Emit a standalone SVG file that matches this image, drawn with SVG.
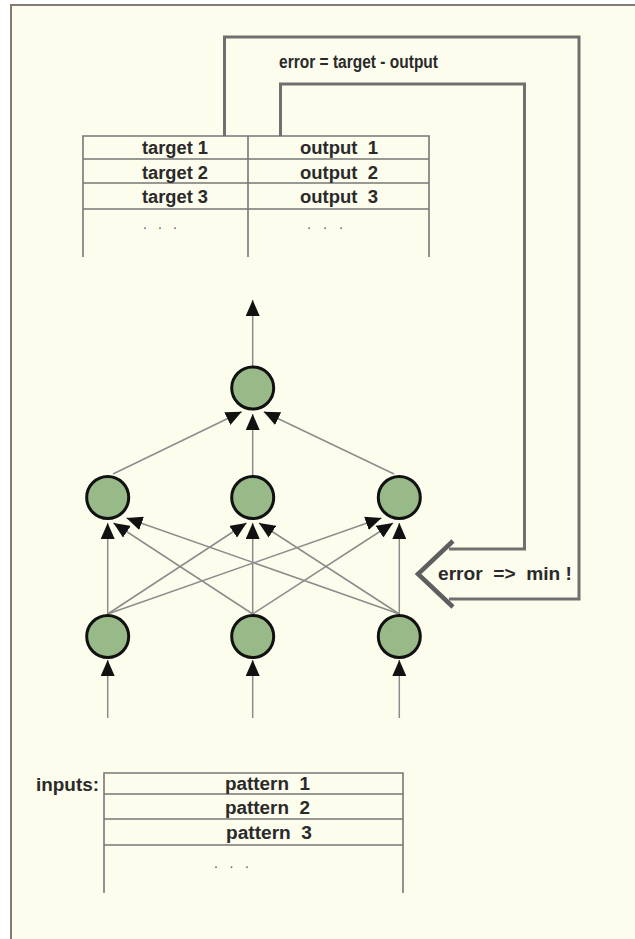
<svg xmlns="http://www.w3.org/2000/svg" width="635" height="939" viewBox="0 0 635 939">
<defs>
<style>
.t{font-family:"Liberation Sans",Arial,sans-serif;font-weight:bold;font-size:18px;fill:#2a2a2a}
.d{font-family:"Liberation Sans",Arial,sans-serif;font-size:14px;fill:#555}
.tbl{stroke:#777;stroke-width:1.6;fill:none}
.fb{stroke:#707070;stroke-width:3;fill:none}
.cn{stroke:#8c8c8c;stroke-width:1.5;fill:none;marker-end:url(#ah)}
.nd{fill:#98ba88;stroke:#111;stroke-width:3}
</style>
<marker id="ah" markerUnits="userSpaceOnUse" markerWidth="16" markerHeight="14" refX="16" refY="7" orient="auto">
<path d="M0,0 L16,7 L0,14 z" fill="#111"/>
</marker>
</defs>
<rect x="0" y="0" width="635" height="939" fill="#ffffff"/>
<rect x="11" y="5" width="624" height="934" fill="#fdfdee"/>
<path d="M11,939 V5 H635" stroke="#857a7b" stroke-width="2" fill="none"/>

<g id="target-output-table">
<path class="tbl" d="M83,257 V136 H429 V257 M248,136 V257 M83,159 H429 M83,183 H429 M83,209 H429"/>
<text class="t" x="142" y="154" textLength="66" lengthAdjust="spacingAndGlyphs">target 1</text>
<text class="t" x="142" y="179" textLength="66" lengthAdjust="spacingAndGlyphs">target 2</text>
<text class="t" x="142" y="203" textLength="66" lengthAdjust="spacingAndGlyphs">target 3</text>
<text class="t" x="300" y="154" textLength="78" lengthAdjust="spacingAndGlyphs" xml:space="preserve">output  1</text>
<text class="t" x="300" y="179" textLength="78" lengthAdjust="spacingAndGlyphs" xml:space="preserve">output  2</text>
<text class="t" x="300" y="203" textLength="78" lengthAdjust="spacingAndGlyphs" xml:space="preserve">output  3</text>
<text class="d" x="143" y="229" textLength="34" lengthAdjust="spacing">. . .</text>
<text class="d" x="307" y="229" textLength="36" lengthAdjust="spacing">. . .</text>
</g>

<g id="inputs-table">
<path class="tbl" d="M104,893 V773 H403 V893 M104,794 H403 M104,819 H403 M104,845 H403"/>
<text class="t" x="36" y="791" textLength="63" lengthAdjust="spacingAndGlyphs">inputs:</text>
<text class="t" x="225" y="790" textLength="85" lengthAdjust="spacingAndGlyphs" xml:space="preserve">pattern  1</text>
<text class="t" x="225" y="814" textLength="85" lengthAdjust="spacingAndGlyphs" xml:space="preserve">pattern  2</text>
<text class="t" x="226" y="839" textLength="86" lengthAdjust="spacingAndGlyphs" xml:space="preserve">pattern  3</text>
<text class="d" x="214" y="868" textLength="35" lengthAdjust="spacing">. . .</text>
</g>

<g id="error-feedback">
<path class="fb" d="M224.5,136 V37 H579 V599 H449"/>
<path class="fb" d="M280.5,136 V84 H524.5 V549 H449"/>
<path d="M453,541 L418,574 L453,607" stroke="#5e5e5e" stroke-width="4.5" fill="none"/>
<text class="t" x="279" y="68" textLength="159" lengthAdjust="spacingAndGlyphs">error = target - output</text>
<text class="t" x="438" y="580" textLength="134" lengthAdjust="spacingAndGlyphs" xml:space="preserve">error  =&gt;  min !</text>
</g>

<g id="connectors">
<line class="cn" x1="252.7" y1="366" x2="252.7" y2="300"/>
<line class="cn" x1="113" y1="474" x2="241.7" y2="411.7"/>
<line class="cn" x1="252.7" y1="475" x2="252.7" y2="414"/>
<line class="cn" x1="394" y1="474" x2="263.7" y2="411.7"/>
<line class="cn" x1="107.7" y1="614" x2="107.7" y2="523"/>
<line class="cn" x1="252.7" y1="614" x2="113.5" y2="523"/>
<line class="cn" x1="399.3" y1="614" x2="126.5" y2="518"/>
<line class="cn" x1="107.7" y1="614" x2="246.5" y2="523"/>
<line class="cn" x1="252.7" y1="614" x2="252.7" y2="523"/>
<line class="cn" x1="399.3" y1="614" x2="259" y2="523"/>
<line class="cn" x1="107.7" y1="614" x2="381.5" y2="518"/>
<line class="cn" x1="252.7" y1="614" x2="393" y2="523"/>
<line class="cn" x1="399.3" y1="614" x2="399.3" y2="523"/>
<line class="cn" x1="107.7" y1="718" x2="107.7" y2="660"/>
<line class="cn" x1="252.7" y1="718" x2="252.7" y2="660"/>
<line class="cn" x1="399.3" y1="718" x2="399.3" y2="660"/>
</g>

<g id="output-node"><circle class="nd" cx="252.7" cy="388" r="21"/></g>
<g id="hidden-1"><circle class="nd" cx="107.7" cy="497.5" r="21"/></g>
<g id="hidden-2"><circle class="nd" cx="252.7" cy="497.5" r="21"/></g>
<g id="hidden-3"><circle class="nd" cx="399.3" cy="497.5" r="21"/></g>
<g id="input-1"><circle class="nd" cx="107.7" cy="636.5" r="21"/></g>
<g id="input-2"><circle class="nd" cx="252.7" cy="636.5" r="21"/></g>
<g id="input-3"><circle class="nd" cx="399.3" cy="636.5" r="21"/></g>
</svg>
